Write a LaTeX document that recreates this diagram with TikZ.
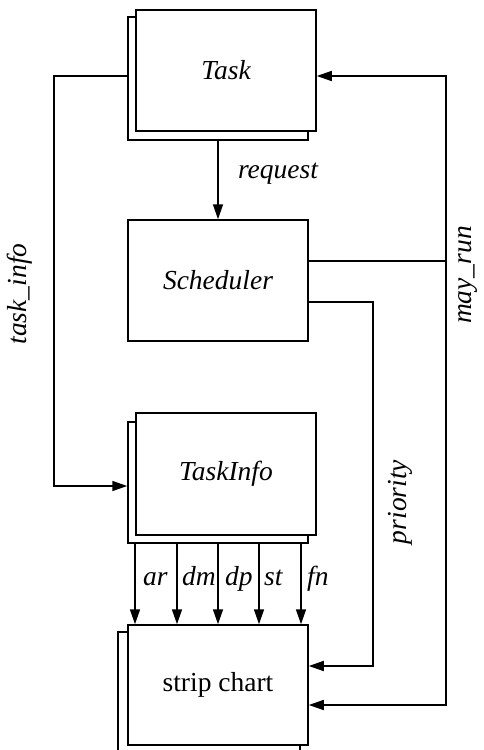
\documentclass[tikz,border=0pt]{standalone}
\usepackage{fontspec}
\setmainfont{Liberation Serif}
\usetikzlibrary{arrows.meta}
\begin{document}
\begin{tikzpicture}[x=1pt,y=-1pt,
  box/.style={draw,line width=1.5pt,fill=white,inner sep=0pt,minimum width=180pt,minimum height=121pt,font=\fontsize{27.5}{32}\selectfont\itshape},
  lbl/.style={inner sep=0pt,font=\fontsize{27.5}{32}\selectfont\itshape},
  conn/.style={line width=1.5pt},
  tip/.tip={Triangle[length=15pt,width=10pt]},
  arr/.style={conn,-tip}]
\useasboundingbox (0,0) rectangle (483,750);
% boxes
\node[box,minimum height=123pt] (taskb) at (218,78.5) {};
\node[box] (taskf) at (226,70.5) {Task};
\node[box] (sched) at (218,280.5) {Scheduler};
\node[box] (tib) at (218,482.5) {};
\node[box,minimum height=122pt] (tif) at (226,474) {TaskInfo};
\node[box,minimum width=182pt,minimum height=120pt] (stripb) at (209,692) {};
\node[box,minimum height=120pt,font=\fontsize{27.5}{32}\selectfont] (stripf) at (218,685) {strip chart};
% coordinates
\coordinate (ti) at (54,76);
\coordinate (tie) at (54,486);
\coordinate (mr) at (446,261);
\coordinate (mtop) at (446,76);
\coordinate (mbot) at (446,705);
\coordinate (pr) at (373,302);
\coordinate (ps) at (373,666);
\coordinate (lrow) at (0,585);
% request
\draw[arr] (taskb.south) -- (sched.north);
\node[lbl] (lreq) at (278,174) {request};
% task_info
\draw[arr] (taskb.west |- ti) -- (ti) -- (tie) -- (tib.west |- tie);
\node[lbl,rotate=90] (lti) at (20,294) {task\_info};
% may_run
\draw[conn] (sched.east |- mr) -- (mr);
\draw[conn,tip-tip] (taskf.east |- mtop) -- (mtop) -- (mbot) -- (stripf.east |- mbot);
\node[lbl,rotate=90] (lmr) at (468,275) {may\_run};
% priority
\draw[arr] (sched.east |- pr) -- (pr) -- (ps) -- (stripf.east |- ps);
\node[lbl,rotate=90] (lpr) at (400,502) {priority};
% five arrows
\foreach \dx/\t/\lx in {-83/ar/8,-41/dm/5,0/dp/7,41/st/5,83/fn/6}{
  \draw[arr] ([xshift=\dx pt]tib.south) -- ([xshift=\dx pt]stripf.north);
  \node[lbl,anchor=base west] (l\t) at ([xshift=\dx pt+\lx pt]tib.south |- lrow) {\t};
}
\end{tikzpicture}
\end{document}
